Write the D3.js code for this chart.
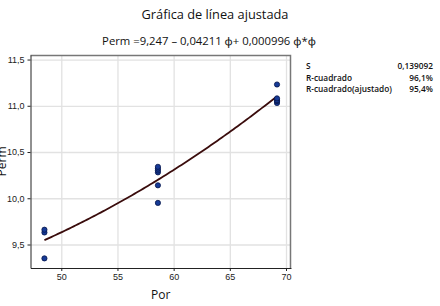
<!DOCTYPE html>
<html>
<head>
<meta charset="utf-8">
<script src="https://cdn.jsdelivr.net/npm/d3@7"></script>
<style>
  body { margin: 0; background: #fff; }
  svg { display: block; font-family: "Open Sans", "Noto Sans", sans-serif; }
  .grid line { stroke: #e2e2e2; stroke-width: 1.3; }
  .grid path { display: none; }
  .axis path, .axis line { stroke: #222; }
  .axis text { font-size: 9px; fill: #222; }
</style>
</head>
<body>
<svg id="container" width="440" height="306"></svg>
<script>
// data
const porLeft = [48.5, 48.5, 48.5];
const permLeft = [9.35, 9.63, 9.66];
const porMid = [58.6, 58.6, 58.6, 58.6, 58.6, 58.6];
const permMid = [9.95, 10.14, 10.28, 10.30, 10.32, 10.34];
const porRight = [69.2, 69.2, 69.2, 69.2, 69.2];
const permRight = [11.23, 11.03, 11.05, 11.06, 11.08];

// fitted coefficients as printed
const coef = [9.247, -0.04211, 0.000996];
const xTicks = [50, 55, 60, 65, 70];
const yTicks = [9.5, 10.0, 10.5, 11.0, 11.5];
const statLabels = ["S", "R-cuadrado", "R-cuadrado(ajustado)"];
const statValues = ["0,139092", "96,1%", "95,4%"];

const por = porLeft.concat(porMid, porRight);
const perm = permLeft.concat(permMid, permRight);
const points = por.map((p, i) => [p, perm[i]]);

const svg = d3.select('#container');
const margin = { top: 55, right: 149, bottom: 38, left: 30.5 };
const width = 440 - margin.left - margin.right;
const height = 306 - margin.top - margin.bottom;

const fmt = d3.format(".1f");
const comma = (v) => fmt(v).replace(".", ",");

const xScale = d3.scaleLinear().domain([47.26, 70.445]).range([0, width]);
const yScale = d3.scaleLinear().domain([9.246, 11.549]).range([height, 0]);

const g = svg.append('g')
    .attr('transform', 'translate(' + margin.left + ',' + margin.top + ')');

g.append('g').attr('class', 'grid')
    .call(d3.axisLeft(yScale).tickValues(yTicks).tickSize(-width).tickFormat(''));
g.append('g').attr('class', 'grid')
    .attr('transform', 'translate(0,' + height + ')')
    .call(d3.axisBottom(xScale).tickValues(xTicks).tickSize(-height).tickFormat(''));

// frame top / right
g.append('path')
    .attr('d', 'M0,0.5H' + (width - 0.5) + 'V' + height)
    .attr('fill', 'none').attr('stroke', '#777').attr('stroke-width', 1.5);

g.append('g').attr('class', 'axis')
    .call(d3.axisLeft(yScale).tickValues(yTicks).tickSize(3).tickSizeOuter(0).tickFormat(comma));
g.append('g').attr('class', 'axis')
    .attr('transform', 'translate(0,' + height + ')')
    .call(d3.axisBottom(xScale).tickValues(xTicks).tickSize(3).tickSizeOuter(0).tickFormat(d3.format('d')));

// fitted curve
const fit = (x) => coef[0] + coef[1] * x + coef[2] * x * x;
const xs = d3.range(d3.min(por), d3.max(por) + 0.01, 0.2);
const line = d3.line().x((d) => xScale(d)).y((d) => yScale(fit(d)));
g.append('path').datum(xs)
    .attr('d', line)
    .attr('fill', 'none')
    .attr('stroke', '#3a0c0c')
    .attr('stroke-width', 1.8);

g.selectAll('circle.pt').data(points).enter().append('circle')
    .attr('class', 'pt')
    .attr('cx', (d) => xScale(d[0]))
    .attr('cy', (d) => yScale(d[1]))
    .attr('r', 2.6)
    .attr('fill', '#163a96')
    .attr('stroke', '#06154a')
    .attr('stroke-width', 0.8);

// titles
svg.append('text').attr('x', 215).attr('y', 19)
    .attr('text-anchor', 'middle').attr('font-size', 12.8).attr('fill', '#111')
    .text('Gráfica de línea ajustada');
svg.append('text').attr('x', 209).attr('y', 45)
    .attr('text-anchor', 'middle').attr('font-size', 11.3).attr('fill', '#111')
    .text('Perm =9,247 – 0,04211 ϕ+ 0,000996 ϕ*ϕ');

svg.append('text').attr('x', margin.left + width / 2).attr('y', 299)
    .attr('text-anchor', 'middle').attr('font-size', 12).attr('fill', '#111')
    .text('Por');
svg.append('text')
    .attr('transform', 'translate(6,' + (margin.top + height / 2) + ') rotate(-90)')
    .attr('text-anchor', 'middle').attr('font-size', 12).attr('fill', '#111')
    .text('Perm');

// stats table
statLabels.forEach((s, i) => {
    svg.append('text').attr('x', 306).attr('y', 69 + i * 11.5)
        .attr('font-size', 8.3).attr('font-weight', 600).attr('fill', '#111').text(s);
    svg.append('text').attr('x', 433).attr('y', 69 + i * 11.5)
        .attr('text-anchor', 'end')
        .attr('font-size', 8.3).attr('font-weight', 600).attr('fill', '#111').text(statValues[i]);
});
</script>
</body>
</html>
